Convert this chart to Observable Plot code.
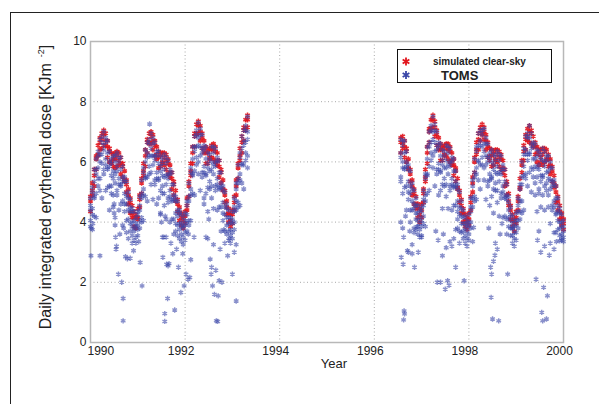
<!DOCTYPE html>
<html><head><meta charset="utf-8">
<script src="https://cdn.jsdelivr.net/npm/d3@7"></script>
<script src="https://cdn.jsdelivr.net/npm/@observablehq/plot@0.6"></script>
<style>
html,body{margin:0;padding:0;background:#fff;}
#wrap{position:relative;width:599px;height:404px;overflow:hidden;font-family:"Liberation Sans",Arial,sans-serif;}
#chart{position:absolute;left:0;top:0;}
#frame{position:absolute;left:10px;top:12px;width:600px;height:400px;border-top:1px solid #222;border-left:1px solid #222;pointer-events:none;}
</style></head><body>
<div id="wrap"><div id="chart"></div><div id="frame"></div></div>
<script>
const xTicks = [1990, 1992, 1994, 1996, 1998, 2000];
const yTicks = [0, 2, 4, 6, 8, 10];
const seriesNames = ["simulated clear-sky", "TOMS"];
const xTitle = "Year";
const yTitle = "Daily integrated erythemal dose [KJm";
const yTitleSup = "-2";

// simulated clear-sky: [decimal year, values...]
const sim1990_1993 = [
[1990.00,4.85,4.70,4.35],[1990.04,5.30,5.05,4.90],[1990.08,5.75,5.55,5.20],[1990.12,6.20,6.10,5.75],
[1990.16,6.55,6.25,6.20],[1990.20,6.80,6.65,6.40],[1990.24,6.95,6.75,6.45],[1990.28,7.05,6.90,6.55],
[1990.32,6.95,6.70,6.55],[1990.36,6.70,6.50,6.15],[1990.40,6.45,6.35,6.00],[1990.44,6.30,6.00,5.95],
[1990.48,6.25,6.10,5.85],[1990.52,6.30,6.10,5.80],[1990.56,6.35,6.20,5.85],[1990.60,6.30,6.05,5.90],
[1990.64,6.15,5.95,5.60],[1990.68,5.95,5.85,5.50],[1990.72,5.70,5.40,5.35],[1990.76,5.40,5.25,5.00],
[1990.80,5.10,4.90,4.60],[1990.84,4.80,4.65,4.30],[1990.88,4.55,4.30,4.15],[1990.92,4.35,4.15,3.85],
[1990.96,4.25,4.15,3.80],[1991.00,4.45,4.15,4.10],[1991.04,4.90,4.75,4.50],[1991.08,5.45,5.30,4.95],
[1991.12,5.95,5.70,5.55],[1991.16,6.40,6.20,5.85],[1991.20,6.75,6.65,6.30],[1991.24,6.95,6.65,6.60],
[1991.28,7.00,6.85,6.60],[1991.32,6.90,6.70,6.40],[1991.36,6.70,6.55,6.20],[1991.40,6.50,6.25,6.10],
[1991.44,6.35,6.15,5.80],[1991.48,6.30,6.20,5.85],[1991.52,6.30,6.00,5.95],[1991.56,6.30,6.15,5.90],
[1991.60,6.25,6.05,5.75],[1991.64,6.10,5.95,5.60],[1991.68,5.90,5.65,5.50],[1991.72,5.65,5.45,5.10],
[1991.76,5.35,5.25,4.90],[1991.80,5.05,4.75,4.70],[1991.84,4.75,4.60,4.35],[1991.88,4.50,4.30,4.05],
[1991.92,4.30,4.15,3.90],[1991.96,4.20,4.05,3.80],[1992.00,4.35,4.20,3.95],[1992.04,4.80,4.55,4.40],
[1992.08,5.35,5.20,4.85],[1992.12,5.95,5.70,5.55],[1992.16,6.50,6.30,5.95],[1992.20,6.95,6.85,6.50],
[1992.24,7.25,6.95,6.90],[1992.28,7.35,7.20,6.95],[1992.32,7.20,7.00,6.70],[1992.36,6.95,6.80,6.45],
[1992.40,6.70,6.45,6.30],[1992.44,6.50,6.30,5.95],[1992.48,6.40,6.30,5.95],[1992.52,6.45,6.15,6.10],
[1992.56,6.55,6.40,6.15],[1992.60,6.60,6.40,6.10],[1992.64,6.50,6.35,6.00],[1992.68,6.30,6.05,5.90],
[1992.72,6.05,5.85,5.50],[1992.76,5.75,5.65,5.30],[1992.80,5.40,5.10,5.05],[1992.84,5.05,4.90,4.65],
[1992.88,4.70,4.50,4.25],[1992.92,4.45,4.30,4.00],[1992.96,4.25,4.05,3.85],[1993.00,4.40,4.25,3.95],
[1993.04,4.85,4.65,4.40],[1993.08,5.40,5.20,4.90],[1993.12,5.95,5.80,5.45],[1993.16,6.45,6.20,6.05],
[1993.20,6.85,6.65,6.30],[1993.24,7.15,7.05,6.70],[1993.28,7.40,7.10,7.05],[1993.32,7.55,7.40,7.15]
];
const sim1996_2000 = [
[1996.56,6.80,6.65,6.30],[1996.60,6.85,6.60,6.45],[1996.64,6.70,6.50,6.15],[1996.68,6.45,6.35,6.00],
[1996.72,6.10,5.80,5.75],[1996.76,5.75,5.60,5.35],[1996.80,5.40,5.20,4.90],[1996.84,5.10,4.95,4.60],
[1996.88,4.85,4.60,4.45],[1996.92,4.60,4.45,4.15],[1996.96,4.45,4.25,4.00],[1997.00,4.60,4.40,4.15],
[1997.04,5.10,4.95,4.65],[1997.08,5.75,5.50,5.35],[1997.12,6.50,6.30,5.95],[1997.16,7.10,7.00,6.65],
[1997.20,7.40,7.10,7.05],[1997.24,7.55,7.40,7.15],[1997.28,7.35,7.15,6.85],[1997.32,7.05,6.90,6.55],
[1997.36,6.80,6.55,6.40],[1997.40,6.60,6.40,6.05],[1997.44,6.50,6.40,6.05],[1997.48,6.55,6.25,6.20],
[1997.52,6.60,6.45,6.20],[1997.56,6.60,6.40,6.10],[1997.60,6.50,6.35,6.00],[1997.64,6.30,6.05,5.90],
[1997.68,6.10,5.90,5.55],[1997.72,5.80,5.70,5.35],[1997.76,5.45,5.15,5.10],[1997.80,5.05,4.90,4.65],
[1997.84,4.75,4.55,4.30],[1997.88,4.45,4.30,4.00],[1997.92,4.25,4.05,3.85],[1997.96,4.15,4.00,3.75],
[1998.00,4.30,4.10,3.90],[1998.04,4.85,4.65,4.40],[1998.08,5.50,5.30,5.00],[1998.12,6.15,6.00,5.65],
[1998.16,6.65,6.40,6.25],[1998.20,6.95,6.75,6.40],[1998.24,7.15,7.05,6.70],[1998.28,7.25,6.95,6.90],
[1998.32,7.15,7.00,6.75],[1998.36,6.90,6.70,6.40],[1998.40,6.65,6.50,6.15],[1998.44,6.45,6.20,6.05],
[1998.48,6.40,6.20,5.85],[1998.52,6.35,6.25,5.90],[1998.56,6.40,6.10,6.05],[1998.60,6.40,6.25,6.00],
[1998.64,6.35,6.15,5.85],[1998.68,6.25,6.10,5.75],[1998.72,6.05,5.80,5.65],[1998.76,5.75,5.55,5.20],
[1998.80,5.35,5.25,4.90],[1998.84,4.95,4.70,4.55],[1998.88,4.55,4.40,4.10],[1998.92,4.25,4.05,3.85],
[1998.96,4.10,3.95,3.70],[1999.00,4.35,4.15,3.95],[1999.04,4.85,4.70,4.40],[1999.08,5.45,5.15,5.10],
[1999.12,6.05,5.90,5.65],[1999.16,6.55,6.35,6.05],[1999.20,6.90,6.75,6.40],[1999.24,7.10,6.85,6.70],
[1999.28,7.20,7.00,6.65],[1999.32,7.05,6.95,6.60],[1999.36,6.85,6.55,6.50],[1999.40,6.65,6.50,6.25],
[1999.44,6.50,6.30,6.00],[1999.48,6.40,6.25,5.90],[1999.52,6.40,6.15,6.00],[1999.56,6.45,6.25,5.90],
[1999.60,6.45,6.35,6.00],[1999.64,6.40,6.10,6.05],[1999.68,6.25,6.10,5.85],[1999.72,6.10,5.90,5.60],
[1999.76,5.85,5.70,5.35],[1999.80,5.55,5.30,5.15],[1999.84,5.20,5.00,4.65],[1999.88,4.85,4.70,4.40],
[1999.92,4.55,4.35,4.10],[1999.96,4.30,4.15,3.90],[2000.00,4.10,3.95,3.75]
];

// TOMS: [decimal year, values...]
const toms1990_1993 = [
[1990.00,4.80,4.55,4.40,4.05,3.85],[1990.04,5.15,5.00,4.45,4.25,3.75],[1990.08,5.75,5.35,4.85,4.80,4.20],
[1990.12,6.10,5.75,5.60,4.95,4.15],[1990.16,6.35,6.20,5.80,5.45,5.20],[1990.20,6.75,6.25,6.00,5.45,5.05],
[1990.24,6.85,6.65,6.25,5.95,4.80],[1990.28,7.00,6.55,6.40,5.75,5.60],[1990.32,6.80,6.65,6.10,5.90,5.05],
[1990.36,6.70,6.30,5.80,5.75,5.15],[1990.40,6.35,6.00,5.85,5.20,4.40],[1990.44,6.10,5.95,5.55,5.20,4.95],
[1990.48,6.20,5.70,5.45,4.90,4.50],[1990.52,6.20,6.00,5.60,5.30,4.15],[1990.56,6.30,5.85,5.70,5.05,4.90],
[1990.60,6.15,6.00,5.45,5.25,4.40],[1990.64,6.15,5.75,5.25,5.20,4.60],[1990.68,5.85,5.50,5.35,4.70,3.90],
[1990.72,5.50,5.35,4.95,4.60,4.35],[1990.76,5.35,4.85,4.60,4.05,3.65],[1990.80,5.00,4.80,4.40,4.10,3.45],
[1990.84,4.75,4.50,4.35,3.95,3.70],[1990.88,4.45,4.35,4.00,3.85,3.55],[1990.92,4.35,4.05,3.80,3.70,3.40],
[1990.96,4.15,3.95,3.85,3.50,3.30],[1991.00,4.35,4.25,3.90,3.75,3.55],[1991.04,4.85,4.55,4.40,4.05,3.80],
[1991.08,5.40,4.95,4.80,4.15,4.00],[1991.12,5.80,5.65,5.10,4.90,4.05],[1991.16,6.40,6.00,5.50,5.45,4.85],
[1991.20,6.65,6.30,6.15,5.50,4.70],[1991.24,6.75,6.60,6.20,5.85,5.60],[1991.28,6.95,6.45,6.20,5.65,5.25],
[1991.32,6.80,6.60,6.20,5.90,4.75],[1991.36,6.65,6.20,6.05,5.40,5.25],[1991.40,6.35,6.20,5.65,5.45,4.60],
[1991.44,6.35,5.95,5.45,5.40,4.80],[1991.48,6.20,5.85,5.70,5.05,4.25],[1991.52,6.10,5.95,5.55,5.20,4.95],
[1991.56,6.25,5.75,5.50,4.95,4.55],[1991.60,6.15,5.95,5.55,5.25,4.10],[1991.64,6.05,5.60,5.45,4.80,4.65],
[1991.68,5.75,5.60,5.05,4.85,4.00],[1991.72,5.65,5.25,4.75,4.70,4.10],[1991.76,5.25,4.90,4.75,4.10,3.60],
[1991.80,4.85,4.70,4.30,3.95,3.70],[1991.84,4.70,4.40,4.20,3.90,3.55],[1991.88,4.40,4.30,3.95,3.75,3.45],
[1991.92,4.25,4.00,3.85,3.60,3.35],[1991.96,4.15,3.90,3.80,3.50,3.25],[1992.00,4.30,4.05,3.90,3.65,3.40],
[1992.04,4.70,4.55,4.25,4.00,3.70],[1992.08,5.30,4.85,4.70,4.05,3.90],[1992.12,5.80,5.65,5.10,4.90,4.05],
[1992.16,6.50,6.10,5.60,5.55,4.95],[1992.20,6.85,6.50,6.35,5.70,4.90],[1992.24,7.05,6.90,6.50,6.15,5.90],
[1992.28,7.30,6.80,6.55,6.00,5.60],[1992.32,7.10,6.90,6.50,6.20,5.05],[1992.36,6.90,6.45,6.30,5.65,5.50],
[1992.40,6.55,6.40,5.85,5.65,4.80],[1992.44,6.50,6.10,5.60,5.55,4.95],[1992.48,6.30,5.95,5.80,5.15,4.35],
[1992.52,6.25,6.10,5.70,5.35,5.10],[1992.56,6.50,6.00,5.75,5.20,4.80],[1992.60,6.50,6.30,5.90,5.60,4.45],
[1992.64,6.45,6.00,5.85,5.20,5.05],[1992.68,6.15,6.00,5.45,5.25,4.40],[1992.72,6.05,5.65,5.15,5.10,4.50],
[1992.76,5.65,5.30,5.15,4.50,3.70],[1992.80,5.20,5.05,4.65,4.30,4.05],[1992.84,5.00,4.50,4.25,3.70,3.30],
[1992.88,4.60,4.45,4.15,3.90,3.60],[1992.92,4.40,4.15,3.95,3.70,3.40],[1992.96,4.15,4.00,3.75,3.55,3.30],
[1993.00,4.35,4.10,3.95,3.65,3.45],[1993.04,4.80,4.50,4.35,4.00,3.75],[1993.08,5.30,5.10,4.70,4.40,3.25],
[1993.12,5.90,5.45,5.30,4.65,4.50],[1993.16,6.30,6.15,5.60,5.40,4.55],[1993.20,6.85,6.45,5.95,5.90,5.30],
[1993.24,7.05,6.70,6.55,5.90,5.10],[1993.28,7.20,7.05,6.65,6.30,6.05],[1993.32,7.50,7.00,6.75,6.20,5.80]
];
const toms1996_2000 = [
[1996.56,6.75,6.30,6.15,5.50,5.35],[1996.60,6.70,6.55,6.00,5.80,4.95],[1996.64,6.70,6.30,5.80,5.75,5.15],
[1996.68,6.35,6.00,5.85,5.20,4.40],[1996.72,5.90,5.75,5.35,5.00,4.75],[1996.76,5.70,5.20,4.95,4.40,4.00],
[1996.80,5.30,5.10,4.70,4.40,3.25],[1996.84,5.05,4.60,4.45,3.80,3.65],[1996.88,4.80,4.55,4.30,4.10,3.75],
[1996.92,4.55,4.30,4.05,3.85,3.60],[1996.96,4.40,4.15,3.95,3.75,3.50],[1997.00,4.50,4.35,4.05,3.85,3.55],
[1997.04,5.05,4.75,4.55,4.20,3.95],[1997.08,5.60,5.45,4.90,4.70,3.85],[1997.12,6.50,6.10,5.60,5.55,4.95],
[1997.16,7.00,6.65,6.50,5.85,5.05],[1997.20,7.20,7.05,6.65,6.30,6.05],[1997.24,7.50,7.00,6.75,6.20,5.80],
[1997.28,7.25,7.05,6.65,6.35,5.20],[1997.32,7.00,6.55,6.40,5.75,5.60],[1997.36,6.65,6.50,5.95,5.75,4.90],
[1997.40,6.60,6.20,5.70,5.65,5.05],[1997.44,6.40,6.05,5.90,5.25,4.45],[1997.48,6.35,6.20,5.80,5.45,5.20],
[1997.52,6.55,6.05,5.80,5.25,4.85],[1997.56,6.50,6.30,5.90,5.60,4.45],[1997.60,6.45,6.00,5.85,5.20,5.05],
[1997.64,6.15,6.00,5.45,5.25,4.40],[1997.68,6.10,5.70,5.20,5.15,4.55],[1997.72,5.70,5.35,5.20,4.55,3.75],
[1997.76,5.25,5.10,4.70,4.35,4.10],[1997.80,5.00,4.50,4.25,3.70,3.30],[1997.84,4.70,4.45,4.20,3.95,3.65],
[1997.88,4.40,4.15,3.95,3.70,3.45],[1997.92,4.20,3.95,3.80,3.55,3.30],[1997.96,4.05,3.90,3.70,3.45,3.20],
[1998.00,4.25,4.00,3.85,3.60,3.40],[1998.04,4.80,4.50,4.35,4.00,3.80],[1998.08,5.40,5.20,4.80,4.50,3.35],
[1998.12,6.10,5.65,5.50,4.85,4.70],[1998.16,6.50,6.35,5.80,5.60,4.75],[1998.20,6.95,6.55,6.05,6.00,5.40],
[1998.24,7.05,6.70,6.55,5.90,5.10],[1998.28,7.05,6.90,6.50,6.15,5.90],[1998.32,7.10,6.60,6.35,5.80,5.40],
[1998.36,6.80,6.60,6.20,5.90,4.75],[1998.40,6.60,6.15,6.00,5.35,5.20],[1998.44,6.30,6.15,5.60,5.40,4.55],
[1998.48,6.40,6.00,5.50,5.45,4.85],[1998.52,6.25,5.90,5.75,5.10,4.30],[1998.56,6.20,6.05,5.65,5.30,5.05],
[1998.60,6.35,5.85,5.60,5.05,4.65],[1998.64,6.25,6.05,5.65,5.35,4.20],[1998.68,6.20,5.75,5.60,4.95,4.80],
[1998.72,5.90,5.75,5.20,5.00,4.15],[1998.76,5.75,5.35,4.85,4.80,4.20],[1998.80,5.25,4.90,4.75,4.10,3.60],
[1998.84,4.85,4.65,4.40,4.15,3.85],[1998.88,4.50,4.25,4.05,3.80,3.55],[1998.92,4.20,3.95,3.80,3.55,3.30],
[1998.96,4.05,3.85,3.65,3.45,3.20],[1999.00,4.30,4.05,3.90,3.65,3.40],[1999.04,4.80,4.55,4.35,4.05,3.80],
[1999.08,5.25,5.10,4.70,4.35,4.10],[1999.12,6.00,5.50,5.25,4.70,4.30],[1999.16,6.45,6.25,5.85,5.55,4.40],
[1999.20,6.85,6.40,6.25,5.60,5.45],[1999.24,6.95,6.80,6.25,6.05,5.20],[1999.28,7.20,6.80,6.30,6.25,5.65],
[1999.32,6.95,6.60,6.45,5.80,5.00],[1999.36,6.65,6.50,6.10,5.75,5.50],[1999.40,6.60,6.10,5.85,5.30,4.90],
[1999.44,6.40,6.20,5.80,5.50,4.35],[1999.48,6.35,5.90,5.75,5.10,4.95],[1999.52,6.25,6.10,5.55,5.35,4.50],
[1999.56,6.45,6.05,5.55,5.50,4.90],[1999.60,6.35,6.00,5.85,5.20,4.40],[1999.64,6.20,6.05,5.65,5.30,5.05],
[1999.68,6.20,5.70,5.45,4.90,4.50],[1999.72,6.00,5.80,5.40,5.10,3.95],[1999.76,5.80,5.35,5.20,4.55,4.40],
[1999.80,5.40,5.25,4.70,4.50,3.65],[1999.84,5.20,4.80,4.30,4.25,3.65],[1999.88,4.80,4.55,4.35,4.05,3.75],
[1999.92,4.45,4.30,4.00,3.80,3.55],[1999.96,4.25,4.00,3.85,3.60,3.40],[2000.00,4.05,3.85,3.70,3.50,3.35]
];
// TOMS scattered low (cloudy) days: [decimal year, value]
const tomsScatter = [
[1990.01,2.88],[1990.20,2.88],[1990.02,3.80],[1990.05,3.95],[1990.50,4.30],[1990.52,3.90],[1990.53,3.50],
[1990.54,3.10],[1990.55,3.20],[1990.50,4.60],[1990.59,2.27],[1990.66,2.00],[1990.69,1.46],[1990.69,0.72],
[1990.62,3.60],[1990.70,3.80],[1990.74,2.85],[1990.78,2.78],[1990.84,2.80],[1990.88,3.30],[1990.91,3.05],
[1991.05,2.66],[1991.09,1.88],[1991.02,3.35],[1991.25,7.26],[1991.48,4.30],[1991.50,4.00],[1991.52,3.50],
[1991.53,2.83],[1991.55,3.50],[1991.57,0.96],[1991.57,0.70],[1991.58,4.20],[1991.60,3.50],[1991.61,2.60],
[1991.63,1.46],[1991.64,2.55],[1991.66,2.62],[1991.70,3.30],[1991.74,2.95],[1991.78,1.08],[1991.82,3.10],
[1991.86,2.50],[1991.91,1.66],[1991.95,2.95],[1991.98,1.88],[1992.02,2.27],[1992.06,2.10],[1992.10,2.16],
[1992.07,3.60],[1992.19,3.50],[1992.12,2.75],[1992.40,4.60],[1992.44,3.50],[1992.48,3.45],[1992.50,4.10],
[1992.53,2.77],[1992.55,2.27],[1992.56,2.50],[1992.58,1.88],[1992.60,3.25],[1992.62,1.60],[1992.65,2.40],
[1992.66,0.72],[1992.69,0.70],[1992.70,1.55],[1992.72,2.05],[1992.74,3.10],[1992.78,2.00],[1992.82,3.75],
[1992.90,2.88],[1992.94,3.45],[1993.00,2.27],[1993.08,1.38],[1993.04,3.00],
[1996.56,4.00],[1996.57,2.83],[1996.60,3.80],[1996.61,2.60],[1996.62,3.50],[1996.63,1.05],[1996.64,0.95],
[1996.62,0.75],[1996.66,4.20],[1996.70,3.05],[1996.72,3.00],[1996.75,3.70],[1996.80,2.95],[1996.85,2.50],
[1996.93,3.00],[1997.00,3.50],[1996.90,3.85],[1997.30,3.70],[1997.33,2.00],[1997.35,3.40],[1997.40,2.00],
[1997.44,2.88],[1997.46,3.60],[1997.50,1.77],[1997.52,3.15],[1997.55,2.05],[1997.58,1.90],[1997.60,3.35],
[1997.64,3.20],[1997.68,3.45],[1997.72,2.50],[1997.76,3.80],[1997.90,2.05],[1998.10,3.82],[1998.42,3.80],
[1998.46,2.50],[1998.48,2.27],[1998.47,1.50],[1998.50,0.78],[1998.52,2.70],[1998.55,2.90],[1998.56,3.30],
[1998.60,3.10],[1998.63,0.72],[1998.66,3.60],[1998.70,3.95],[1998.82,2.27],[1998.92,3.80],[1999.42,2.10],
[1999.45,3.40],[1999.48,3.70],[1999.52,3.00],[1999.54,1.00],[1999.56,0.72],[1999.58,1.83],[1999.60,3.20],
[1999.64,0.78],[1999.66,1.55],[1999.70,2.90],[1999.72,3.30],[1999.80,3.10],[1999.85,3.35],[1999.92,3.38],
[1999.97,3.45]
];

const RED = "#e2141c", BLUE = "#3a46a8";
const flat = rows => rows.flatMap(([t, ...vs]) => vs.map(v => ({t, v})));
const simPts = flat(sim1990_1993.concat(sim1996_2000));
const tomsPts = flat(toms1990_1993.concat(toms1996_2000)).concat(tomsScatter.map(([t, v]) => ({t, v})));
const FONT = "'Liberation Sans', Arial, sans-serif";

const chart = Plot.plot({
  width: 599, height: 404,
  marginLeft: 90, marginRight: 36, marginTop: 41, marginBottom: 62,
  x: {domain: [1990, 2000]},
  y: {domain: [0, 10]},
  style: {fontFamily: FONT, fontSize: "12px", color: "#222", background: "transparent", overflow: "visible"},
  marks: [
    Plot.gridX(xTicks, {stroke: "#a8a8a8", strokeOpacity: 1, strokeDasharray: "1,2.5"}),
    Plot.gridY(yTicks, {stroke: "#a8a8a8", strokeOpacity: 1, strokeDasharray: "1,2.5"}),
    Plot.frame({stroke: "#b8b8b8", strokeWidth: 1.5}),
    Plot.dot(simPts, {x: "t", y: "v", symbol: "asterisk", r: 2.5, stroke: RED, strokeOpacity: 0.9, strokeWidth: 1.5}),
    Plot.dot(tomsPts, {x: "t", y: "v", symbol: "asterisk", r: 2.5, stroke: BLUE, strokeOpacity: 0.6, strokeWidth: 1.4}),
    Plot.axisX(xTicks.slice(0, 1), {tickSize: 0, tickPadding: 4, textAnchor: "start", dx: -3, tickFormat: d => String(d), label: null}),
    Plot.axisX(xTicks.slice(1), {tickSize: 0, tickPadding: 4, dx: -4, tickFormat: d => String(d), label: null}),
    Plot.axisY(yTicks, {tickSize: 0, tickPadding: 4, label: null})
  ]
});
document.getElementById("chart").appendChild(chart);

const svg = d3.select(chart);
// y title
const yt = svg.append("text").attr("transform", "translate(51,187) rotate(-90)")
  .attr("text-anchor", "middle").attr("fill", "#222")
  .style("font-size", "16px").style("font-family", FONT);
yt.append("tspan").text(yTitle);
yt.append("tspan").attr("dx", 6).attr("dy", -7).style("font-size", "9px").text(yTitleSup);
yt.append("tspan").attr("dy", 7).text("]");
// x title
svg.append("text").attr("x", 334).attr("y", 368).attr("text-anchor", "middle").attr("fill", "#222")
  .style("font-size", "13px").style("font-family", FONT).text(xTitle);
// legend
const lg = svg.append("g").attr("text-anchor", "start");
lg.append("rect").attr("x", 397.5).attr("y", 49.5).attr("width", 154).attr("height", 33)
  .attr("fill", "#fff").attr("stroke", "#111").attr("stroke-width", 1);
const ast = d3.symbol(d3.symbolAsterisk, 42)();
[[RED, 61.5], [BLUE, 75]].forEach(([c, y]) => {
  lg.append("path").attr("d", ast).attr("transform", `translate(406,${y})`).attr("fill", "none")
    .attr("stroke", c).attr("stroke-width", 1.8);
});
lg.append("text").attr("x", 433).attr("y", 64.5).attr("text-anchor", "start").attr("fill", "#222").style("font-size", "10px")
  .style("font-weight", "bold").style("font-family", FONT).text(seriesNames[0]);
lg.append("text").attr("x", 441).attr("y", 79.5).attr("text-anchor", "start").attr("fill", "#222").style("font-size", "13px")
  .style("font-weight", "bold").style("font-family", FONT).text(seriesNames[1]);
</script>
</body></html>
